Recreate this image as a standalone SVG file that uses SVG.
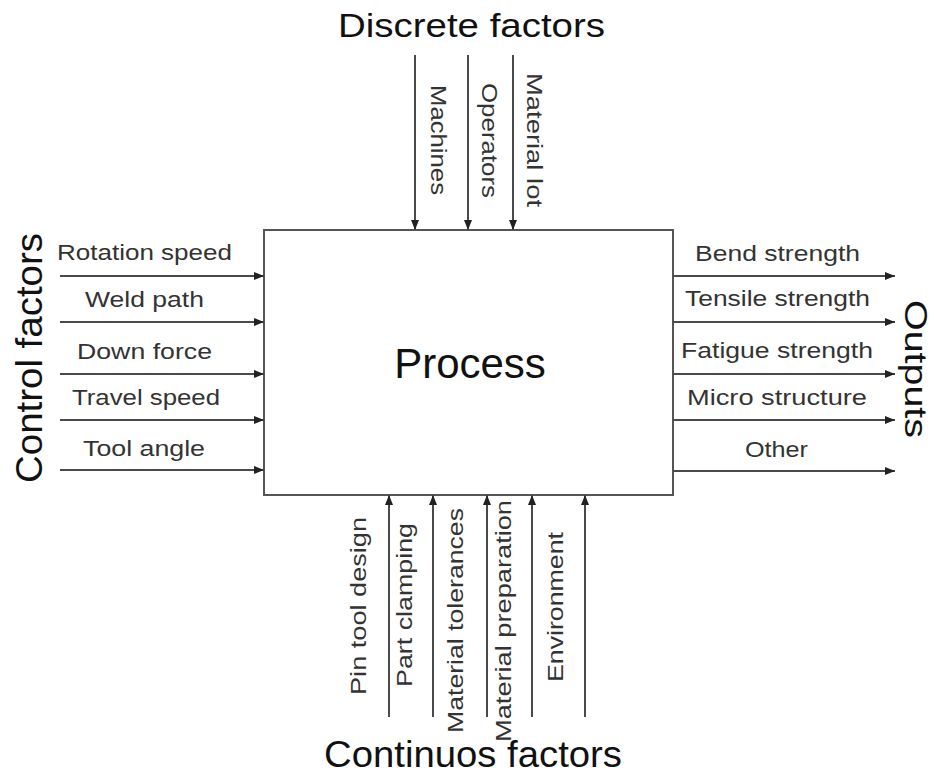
<svg xmlns="http://www.w3.org/2000/svg" width="934" height="776" viewBox="0 0 934 776">
<style>
.lbl{font-family:"Liberation Sans",Arial,sans-serif;font-size:22px;fill:#333;}
.ttl{font-family:"Liberation Sans",Arial,sans-serif;fill:#111;}
.con{stroke:#4a4a4a;stroke-width:2;fill:none;marker-end:url(#ah);}
</style>
<defs>
<marker id="ah" viewBox="0 0 10 8" refX="10" refY="4" markerWidth="11" markerHeight="8" markerUnits="userSpaceOnUse" orient="auto"><path d="M0,0 L10,4 L0,8 z" fill="#222"/></marker>
</defs>
<rect width="934" height="776" fill="#fff"/>

<g id="process">
<rect x="264" y="230" width="409" height="265" fill="#fff" stroke="#555" stroke-width="2"/>
<text class="ttl" x="470" y="378" font-size="42" text-anchor="middle">Process</text>
</g>

<g id="connectors">
<line class="con" x1="60" y1="276" x2="264" y2="276"/>
<line class="con" x1="60" y1="322" x2="264" y2="322"/>
<line class="con" x1="60" y1="374" x2="264" y2="374"/>
<line class="con" x1="60" y1="420" x2="264" y2="420"/>
<line class="con" x1="60" y1="470" x2="264" y2="470"/>
<line class="con" x1="673" y1="276" x2="895" y2="276"/>
<line class="con" x1="673" y1="322" x2="895" y2="322"/>
<line class="con" x1="673" y1="374" x2="895" y2="374"/>
<line class="con" x1="673" y1="420" x2="895" y2="420"/>
<line class="con" x1="673" y1="471" x2="895" y2="471"/>
<line class="con" x1="415" y1="55" x2="415" y2="230"/>
<line class="con" x1="468" y1="55" x2="468" y2="230"/>
<line class="con" x1="513" y1="55" x2="513" y2="230"/>
<line class="con" x1="389" y1="717" x2="389" y2="495"/>
<line class="con" x1="433" y1="717" x2="433" y2="495"/>
<line class="con" x1="487" y1="717" x2="487" y2="495"/>
<line class="con" x1="532" y1="717" x2="532" y2="495"/>
<line class="con" x1="585" y1="717" x2="585" y2="495"/>
</g>

<g id="control-factors">
<text class="ttl" transform="translate(42,358) rotate(-90)" font-size="36" text-anchor="middle" textLength="250" lengthAdjust="spacingAndGlyphs">Control factors</text>
<text class="lbl" x="144.5" y="260" text-anchor="middle" textLength="175" lengthAdjust="spacingAndGlyphs">Rotation speed</text>
<text class="lbl" x="144.5" y="307" text-anchor="middle" textLength="119" lengthAdjust="spacingAndGlyphs">Weld path</text>
<text class="lbl" x="144.5" y="359" text-anchor="middle" textLength="135" lengthAdjust="spacingAndGlyphs">Down force</text>
<text class="lbl" x="146" y="405" text-anchor="middle" textLength="148" lengthAdjust="spacingAndGlyphs">Travel speed</text>
<text class="lbl" x="144" y="456" text-anchor="middle" textLength="122" lengthAdjust="spacingAndGlyphs">Tool angle</text>
</g>

<g id="outputs">
<text class="ttl" transform="translate(905,369) rotate(90)" font-size="31" text-anchor="middle" textLength="138" lengthAdjust="spacingAndGlyphs">Outputs</text>
<text class="lbl" x="777.5" y="261" text-anchor="middle" textLength="165" lengthAdjust="spacingAndGlyphs">Bend strength</text>
<text class="lbl" x="777.5" y="306" text-anchor="middle" textLength="185" lengthAdjust="spacingAndGlyphs">Tensile strength</text>
<text class="lbl" x="777" y="358" text-anchor="middle" textLength="192" lengthAdjust="spacingAndGlyphs">Fatigue strength</text>
<text class="lbl" x="777" y="405" text-anchor="middle" textLength="180" lengthAdjust="spacingAndGlyphs">Micro structure</text>
<text class="lbl" x="776.5" y="457" text-anchor="middle" textLength="63" lengthAdjust="spacingAndGlyphs">Other</text>
</g>

<g id="discrete-factors">
<text class="ttl" x="471.5" y="37" font-size="34" text-anchor="middle" textLength="267" lengthAdjust="spacingAndGlyphs">Discrete factors</text>
<text class="lbl" transform="translate(431,140) rotate(90)" text-anchor="middle" textLength="110" lengthAdjust="spacingAndGlyphs">Machines</text>
<text class="lbl" transform="translate(482,140.5) rotate(90)" text-anchor="middle" textLength="115" lengthAdjust="spacingAndGlyphs">Operators</text>
<text class="lbl" transform="translate(527,140) rotate(90)" text-anchor="middle" textLength="134" lengthAdjust="spacingAndGlyphs">Material lot</text>
</g>

<g id="continuous-factors">
<text class="ttl" x="473" y="767" font-size="36" text-anchor="middle" textLength="298" lengthAdjust="spacingAndGlyphs">Continuos factors</text>
<text class="lbl" transform="translate(366,606) rotate(-90)" text-anchor="middle" textLength="178" lengthAdjust="spacingAndGlyphs">Pin tool design</text>
<text class="lbl" transform="translate(412,605) rotate(-90)" text-anchor="middle" textLength="164" lengthAdjust="spacingAndGlyphs">Part clamping</text>
<text class="lbl" transform="translate(463,620.5) rotate(-90)" text-anchor="middle" textLength="225" lengthAdjust="spacingAndGlyphs">Material tolerances</text>
<text class="lbl" transform="translate(511,621) rotate(-90)" text-anchor="middle" textLength="242" lengthAdjust="spacingAndGlyphs">Material preparation</text>
<text class="lbl" transform="translate(563,607) rotate(-90)" text-anchor="middle" textLength="150" lengthAdjust="spacingAndGlyphs">Environment</text>
</g>
</svg>
